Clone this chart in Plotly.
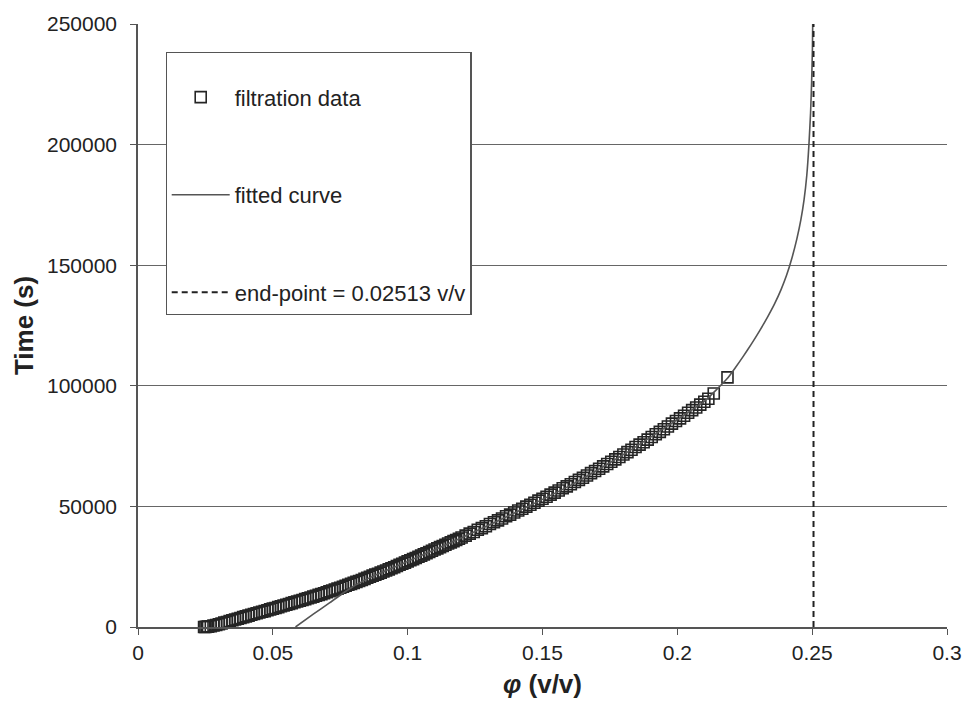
import plotly.graph_objects as go

# filtration data (phi in v/v, time in s)
phi_data = [
    0.0245, 0.0250, 0.0255, 0.026, 0.027, 0.028, 0.029, 0.030, 0.031, 0.032,
    0.033, 0.034, 0.035, 0.036, 0.037, 0.038, 0.039, 0.040, 0.041, 0.042,
    0.043, 0.044, 0.045, 0.046, 0.047, 0.048, 0.049, 0.050, 0.051, 0.052,
    0.053, 0.054, 0.055, 0.056, 0.057, 0.058, 0.059, 0.060, 0.061, 0.062,
    0.063, 0.064, 0.065, 0.066, 0.067, 0.068, 0.069, 0.070, 0.071, 0.072,
    0.073, 0.074, 0.075, 0.076, 0.077, 0.078, 0.079, 0.080, 0.081, 0.082,
    0.083, 0.084, 0.085, 0.086, 0.087, 0.088, 0.089, 0.090, 0.091, 0.092,
    0.093, 0.094, 0.095, 0.096, 0.097, 0.098, 0.099, 0.100, 0.101, 0.102,
    0.103, 0.104, 0.105, 0.106, 0.107, 0.108, 0.109, 0.110, 0.111, 0.112,
    0.113, 0.114, 0.115, 0.116, 0.117, 0.118, 0.119, 0.120, 0.1215, 0.123,
    0.1245, 0.126, 0.1275, 0.129, 0.1305, 0.132, 0.1335, 0.135, 0.1365, 0.138,
    0.1395, 0.141, 0.1425, 0.144, 0.1455, 0.147, 0.1485, 0.150, 0.1515, 0.153,
    0.1545, 0.156, 0.1575, 0.159, 0.1605, 0.162, 0.1635, 0.165, 0.1665, 0.168,
    0.1695, 0.171, 0.1725, 0.174, 0.1755, 0.177, 0.1785, 0.180, 0.1815, 0.183,
    0.1845, 0.186, 0.1875, 0.189, 0.1905, 0.192, 0.1935, 0.195, 0.1965, 0.198,
    0.1995, 0.201, 0.2025, 0.204, 0.2055, 0.207, 0.2085, 0.210, 0.2115, 0.2135,
    0.2186,
]
time_data = [
    0, 0, 100, 150, 300, 600, 850, 1150, 1450, 1800,
    2100, 2450, 2800, 3100, 3400, 3750, 4100, 4400, 4700, 5050,
    5400, 5700, 6000, 6300, 6600, 6950, 7300, 7600, 7900, 8250,
    8600, 8900, 9200, 9550, 9900, 10250, 10600, 10900, 11200, 11550,
    11900, 12250, 12600, 12950, 13300, 13650, 14000, 14400, 14800, 15150,
    15500, 15900, 16300, 16700, 17100, 17500, 17900, 18300, 18700, 19100,
    19500, 19950, 20400, 20850, 21300, 21700, 22100, 22550, 23000, 23450,
    23900, 24350, 24800, 25300, 25800, 26250, 26700, 27200, 27700, 28150,
    28600, 29100, 29600, 30100, 30600, 31100, 31600, 32100, 32600, 33100,
    33600, 34100, 34600, 35100, 35600, 36100, 36600, 37100, 37900, 38700,
    39400, 40300, 41000, 41800, 42700, 43400, 44200, 45000, 45900, 46600,
    47500, 48300, 49000, 49900, 50700, 51500, 52400, 53200, 54000, 54900,
    55700, 56600, 57500, 58300, 59200, 60100, 61000, 61900, 62800, 63800,
    64700, 65600, 66600, 67600, 68500, 69500, 70500, 71500, 72500, 73500,
    74600, 75600, 76600, 77700, 78800, 79900, 80900, 82000, 83100, 84300,
    85400, 86500, 87600, 88800, 89900, 91000, 92200, 93400, 94600, 96800,
    103500,
]

# fitted curve
phi_fit = [0.0584, 0.0650, 0.0710, 0.0760, 0.0810, 0.0870, 0.095, 0.100, 0.120, 0.140,
           0.160, 0.180, 0.200, 0.210, 0.2185, 0.2215, 0.2245, 0.2275, 0.2305, 0.2335,
           0.2360, 0.2385, 0.2405, 0.2425, 0.2443, 0.2458, 0.2470, 0.2480, 0.2488, 0.2494,
           0.2498, 0.2501, 0.2502]
time_fit = [0, 5300, 10000, 14000, 17600, 21000, 24800, 27200, 37000, 47500,
            58500, 71500, 86000, 93500, 103000, 107500, 112300, 117400, 122800, 128600,
            133850, 140000, 145800, 153000, 160800, 168800, 177200, 187200, 200000, 213000,
            226000, 240000, 250000]

# end-point line
end_point = 0.2505
end_time = [0, 250000]

x_ticks = [0, 0.05, 0.1, 0.15, 0.2, 0.25, 0.3]
x_ticktext = ["0", "0.05", "0.1", "0.15", "0.2", "0.25", "0.3"]
y_ticks = [0, 50000, 100000, 150000, 200000, 250000]

fig = go.Figure()
fig.add_trace(go.Scatter(
    x=phi_data, y=time_data, mode="markers", name="filtration data", legendgroup="a",
    marker=dict(symbol="square-open", size=11, color="#252525", line=dict(width=1.6, color="#252525")),
    cliponaxis=False))
fig.add_trace(go.Scatter(
    x=phi_fit, y=time_fit, mode="lines", name="fitted curve", legendgroup="b",
    line=dict(color="#555555", width=1.6, shape="spline", smoothing=0.5)))
fig.add_trace(go.Scatter(
    x=[end_point, end_point], y=end_time, mode="lines", name="end-point = 0.02513 v/v", legendgroup="c",
    line=dict(color="#222222", width=2, dash="6px,4px")))

fig.update_layout(
    width=974, height=718,
    margin=dict(l=138, r=18, t=20, b=91),
    paper_bgcolor="white", plot_bgcolor="white",
    font=dict(family="Liberation Sans, Arial, sans-serif", size=22, color="#222222"),
    showlegend=True,
    legend=dict(
        x=0.034, y=0.954, xanchor="left", yanchor="top",
        bgcolor="white", bordercolor="#555555", borderwidth=1.2,
        font=dict(size=22, color="#222222"),
        title=dict(text="&nbsp;", font=dict(size=18)),
        tracegroupgap=66, itemwidth=58,
    ),
    xaxis=dict(
        range=[0, 0.3], tickvals=x_ticks, ticktext=x_ticktext,
        showgrid=False, zeroline=False, showline=True, linecolor="#555555", linewidth=1.5,
        ticks="outside", ticklen=6, tickcolor="#555555",
        tickfont=dict(size=21),
        title=dict(text="<b><i>φ</i> (v/v)</b>", font=dict(size=26, color="#222222"), standoff=12),
    ),
    yaxis=dict(
        range=[0, 250000], tickvals=y_ticks, tickformat="d",
        showgrid=True, gridcolor="#666666", gridwidth=1,
        zeroline=False, showline=True, linecolor="#555555", linewidth=1.5,
        ticks="outside", ticklen=6, tickcolor="#555555",
        tickfont=dict(size=21), ticklabelstandoff=9,
        title=dict(text="<b>Time (s)</b>", font=dict(size=26, color="#222222"), standoff=6),
    ),
)

fig.write_html("out.html")
